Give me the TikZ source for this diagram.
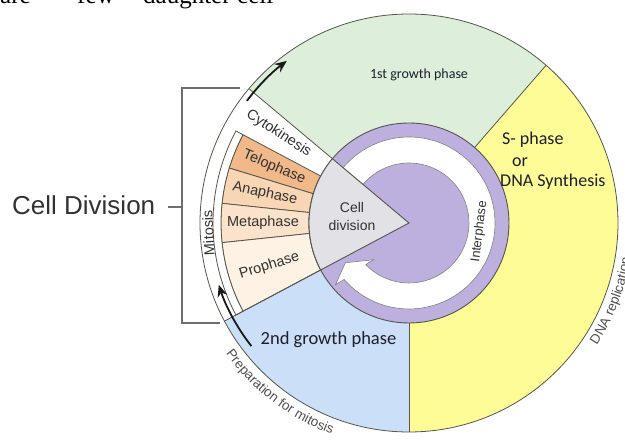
\documentclass[tikz,border=0pt]{standalone}
\usepackage{fontspec}
\setmainfont{Liberation Serif}
\newfontfamily\arialf{Liberation Sans}
\newfontfamily\calibf{Carlito}
\usetikzlibrary{decorations.text,arrows.meta}
\definecolor{gphase}{RGB}{221,238,219}
\definecolor{sphase}{RGB}{253,252,150}
\definecolor{bphase}{RGB}{203,223,248}
\definecolor{purp}{RGB}{190,176,222}
\definecolor{wedgec}{RGB}{226,226,230}
\definecolor{telo}{RGB}{241,185,138}
\definecolor{ana}{RGB}{248,214,180}
\definecolor{meta}{RGB}{250,227,202}
\definecolor{pro}{RGB}{253,242,228}
\definecolor{linec}{RGB}{85,85,75}
\definecolor{txtc}{RGB}{50,50,50}
\definecolor{navy}{RGB}{30,30,45}
\definecolor{brgray}{RGB}{110,110,110}
\definecolor{curvtxt}{RGB}{80,80,80}
\newcommand\annsec[5]{%
  \filldraw[fill=#5, draw=linec, line width=0.8] (#1:#3) arc[start angle=#1,end angle=#2,radius=#3] -- (#2:#4) arc[start angle=#2,end angle=#1,radius=#4] -- cycle;}
\begin{document}
\begin{tikzpicture}[x=1pt,y=1pt,
  stxt/.style={font=\arialf\fontsize{14.5}{16}\selectfont, text=txtc, inner sep=0},
  ctxt/.style={font=\calibf\fontsize{18}{20}\selectfont, text=navy, inner sep=0},
  sline/.style={draw=linec, line width=0.8},
  blkarrow/.style={draw=black!90, line width=1.8, -{Stealth[length=12,width=10]}},
  topword/.style={font=\fontsize{25}{28}\selectfont, anchor=base west, inner sep=0}]
\useasboundingbox (-409,-218) rectangle (216,223);
\begin{scope}
\clip (-409,-218) rectangle (216,223);
% outer sectors
\fill[gphase] (0,0) -- (49:209) arc[start angle=49,end angle=140,radius=209] -- cycle;
\fill[sphase] (0,0) -- (-90:209) arc[start angle=-90,end angle=49,radius=209] -- cycle;
\fill[bphase] (0,0) -- (208:209) arc[start angle=208,end angle=270,radius=209] -- cycle;
\fill[white] (0,0) -- (140:209) arc[start angle=140,end angle=208,radius=209] -- cycle;
% mitosis stages
\annsec{152}{163}{100}{188}{telo}
\annsec{163}{174}{100}{188}{ana}
\annsec{174}{186}{100}{188}{meta}
\annsec{186}{208}{100}{188}{pro}
\annsec{152}{208}{188}{196}{white}
% boundaries
\draw[sline] (0,0) -- (49:209);
\draw[sline] (0,0) -- (-90:209);
\draw[sline] (0,0) -- (140:209);
\draw[sline] (0,0) -- (208:209);
\draw[sline] (0,0) circle[radius=209];
% interphase rings
\filldraw[fill=purp, draw=linec, line width=0.9] (0,0) circle[radius=100];
\filldraw[fill=white, draw=gray, line width=0.6] (140:86) arc[start angle=140,end angle=-139,radius=86] -- (-140:96) -- (-148:75) -- (-134:51) -- (-136:60) arc[start angle=-136,end angle=140,radius=60] -- cycle;
% cell division wedge
\filldraw[fill=wedgec, draw=linec, line width=0.9] (0,0) -- (140:100) arc[start angle=140,end angle=208,radius=100] -- cycle;
% texts
\node[align=center, font=\arialf\fontsize{14}{18}\selectfont, text=txtc] (cdiv) at (-57,7) {Cell\\division};
\node[stxt, rotate=-33] (cyto) at (145.5:158) {Cytokinesis};
\node[stxt, rotate=-22.5] (telo) at (157.5:146) {Telophase};
\node[stxt, rotate=-11.5] (ana) at (168.5:147) {Anaphase};
\node[stxt] (meta) at (180:146) {Metaphase};
\node[stxt, rotate=17] (pro) at (197:146) {Prophase};
\node[stxt, rotate=93] (mit) at (182.8:201) {Mitosis};
\node[stxt, font=\arialf\fontsize{13}{14}\selectfont, rotate=83] (inter) at (-7:71) {Interphase};
\node[font=\calibf\fontsize{14}{16}\selectfont, text=navy] (g1) at (10,148) {1st growth phase};
\node[ctxt, anchor=west] (s1) at (93,83) {S- phase};
\node[ctxt, anchor=west] (s2) at (103,61) {or};
\node[ctxt, anchor=west] (s3) at (91,41) {DNA Synthesis};
\node[font=\calibf\fontsize{18.5}{20}\selectfont, text=navy] (g2) at (-80.5,-117) {2nd growth phase};
% curved labels
\path[decorate, decoration={text along path, text={|\arialf\fontsize{13.5}{14}\selectfont\color{curvtxt}|Preparation for mitosis}}] (215.5:225) arc[start angle=215.5,end angle=262,radius=225];
\path[decorate, decoration={text along path, text={|\arialf\fontsize{13.5}{14}\selectfont\color{curvtxt}|DNA replication}}] (-33:224) arc[start angle=-33,end angle=20,radius=224];
% progression arrows
\coordinate (a1s) at (143:203);
\coordinate (a2s) at (218:200);
\draw[blkarrow] (a1s) arc[start angle=143,end angle=127,radius=203];
\draw[blkarrow] (a2s) arc[start angle=218,end angle=198,radius=200];
% Cell Division bracket
\node[font=\arialf\fontsize{26}{28}\selectfont, text=txtc, anchor=base west, inner sep=0] (celldiv) at (-397,8) {Cell Division};
\coordinate (bt) at (-169,135);
\coordinate (bb) at (-189,-100);
\coordinate (tk) at (-241,16);
\draw[brgray, line width=1.1] (bt) -- (-227,135) -- (-227,-100) -- (bb);
\draw[brgray, line width=1.1] (tk) -- (-227,16);
% cropped line of text at the top
\node[topword] (w1) at (-409,219) {are};
\node[topword] (w2) at (-332,219) {few};
\node[topword] (w3) at (-266,219) {daughter};
\node[topword] (w4) at (-172,219) {cell};
\end{scope}
\end{tikzpicture}
\end{document}
